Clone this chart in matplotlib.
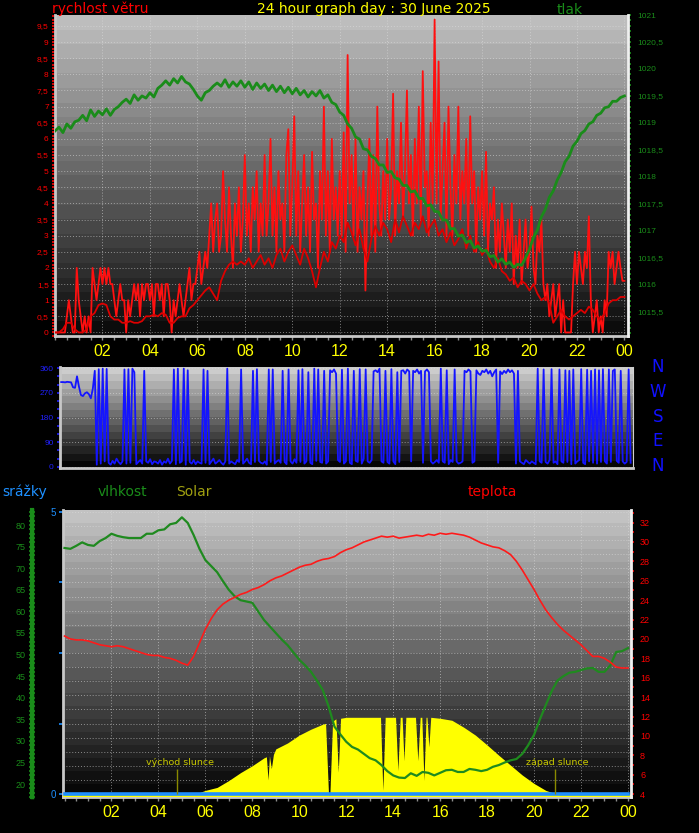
import numpy as np
import matplotlib
matplotlib.use("Agg")
import matplotlib.pyplot as plt
from matplotlib.lines import Line2D
from matplotlib.ticker import MultipleLocator, FuncFormatter
from matplotlib import font_manager

# ---- data ----
# wind gust, m/s, every 5 min (one row per hour)
gust = [
    0, 0, 0, 0, 0, 0, 0.5, 1, 0.5, 0, 0, 2,
    1, 0.5, 0, 0.5, 0, 0.5, 0, 2, 1.5, 1, 1.5, 2,
    1.5, 2, 1.5, 2, 1.5, 1.5, 1, 0.5, 1, 1.5, 1, 1,
    0, 1, 0.5, 1, 1.5, 1, 1.5, 0.5, 1.5, 1, 1.5, 1.5,
    1, 1.5, 0.5, 1.5, 1.5, 1, 1.5, 0.5, 1.5, 1.5, 1, 0,
    1, 0.5, 1, 1.5, 1, 0.5, 1, 1.5, 2, 1, 1.5, 1.5,
    2, 2.5, 1.5, 2, 2.5, 2, 3, 4, 2.5, 3.5, 4, 2.5,
    3, 5, 3.5, 2.5, 4.5, 3, 2, 4, 3, 4.5, 2.5, 3.5,
    5.5, 3, 4, 2.5, 4.5, 3.5, 5, 2.5, 4, 3, 5.5, 3,
    4, 6, 3, 4.5, 2.5, 5, 3.5, 4, 2.5, 5.5, 6.3, 3,
    4.5, 6.7, 3, 5, 2.5, 4, 5.5, 3, 4.5, 2.5, 5.6, 3.5,
    4, 2, 5, 3.5, 7, 3, 5, 2.5, 6, 3.5, 4.5, 3,
    5, 3, 6.2, 2.5, 8.6, 4, 5.5, 3, 6, 2.5, 4.5, 3.5,
    5, 1.3, 4, 6, 3, 5.5, 2.5, 7, 4, 3, 5, 3.5,
    6, 3.5, 4.5, 7.4, 3, 5, 4, 6.5, 3.5, 5, 7.5, 4,
    5.5, 3, 6, 4, 7, 3.5, 8.1, 4.5, 5, 3, 6.5, 4,
    9.7, 4, 8.4, 3.5, 5, 6.5, 3, 7, 4.5, 3, 5.5, 4,
    7, 3.5, 5, 4, 6, 3, 6.7, 4, 5, 2.5, 4.5, 3.5,
    5, 3, 5.6, 2.5, 4, 3.5, 4.5, 2, 3.5, 2.5, 4, 3,
    2, 3.5, 2.5, 4, 1.5, 3, 2, 3.5, 1.5, 2.5, 3.5, 2,
    2.5, 3.9, 2, 1.5, 3, 2.5, 3.5, 1.5, 1, 1.5, 0.5, 1,
    1.5, 0.5, 1, 1.5, 0, 1, 0, 0, 0, 0, 1.5, 2.5,
    1.5, 2.5, 2, 1.5, 2.5, 2, 3.6, 1, 0, 0.5, 1, 0,
    0.5, 0, 1, 0.5, 2.5, 2, 2.5, 1.5, 2, 2.5, 2, 1.6,
    1.6,
]

# average wind, m/s, every 10 min
wind_avg = [
    0, 0, 0.1, 0.3, 0.3, 0.1,
    0, 0, 0.1, 0.5, 0.6, 0.85,
    0.9, 0.85, 0.5, 0.4, 0.4, 0.3,
    0.3, 0.35, 0.3, 0.3, 0.35, 0.5,
    0.5, 0.55, 0.5, 0.6, 0.55, 0.3,
    0.3, 0.45, 0.5, 0.5, 0.75, 0.85,
    1.0, 1.15, 1.3, 1.4, 1.2, 1.0,
    1.6, 1.9, 2.1, 2.2, 2.1, 2.2,
    2.1, 2.3, 2.0, 2.2, 2.4, 2.1,
    2.3, 2.0, 2.4, 2.6, 2.2, 2.5,
    2.7, 2.4, 2.1, 2.6, 2.3, 1.9,
    1.4, 2.0, 2.5, 2.2, 2.8, 2.6,
    3.0, 2.8, 3.4, 3.1, 2.7, 3.2,
    2.6, 2.2, 2.9, 3.3, 3.0, 3.4,
    3.2, 2.8, 3.5, 3.1, 3.6, 3.3,
    3.0, 3.4, 3.2, 3.6, 3.1, 3.3,
    3.5, 3.0, 3.2, 2.8, 3.1, 2.7,
    2.9, 3.2, 2.6, 3.0, 2.5, 2.8,
    2.4, 2.6, 2.2, 2.0, 2.3, 1.9,
    1.8, 1.6, 1.7, 1.4, 1.6, 1.5,
    1.3, 1.5, 1.2, 1.0, 1.1, 0.9,
    0.3, 0.5, 0.7, 0.5, 0.4, 0.5,
    0.6, 0.7, 0.6, 0.8, 0.7, 0.5,
    0.4, 0.6, 0.9, 1.0, 1.0, 1.1,
    1.1,
]

# pressure, hPa, every 10 min
pressure = [
    1018.85, 1018.92, 1018.82, 1018.98, 1018.90, 1019.02,
    1019.05, 1019.14, 1019.04, 1019.24, 1019.12, 1019.22,
    1019.15, 1019.26, 1019.14, 1019.25, 1019.30, 1019.38,
    1019.44, 1019.36, 1019.52, 1019.42, 1019.50, 1019.46,
    1019.56, 1019.48, 1019.64, 1019.70, 1019.78, 1019.70,
    1019.82, 1019.74, 1019.86, 1019.76, 1019.72, 1019.62,
    1019.50, 1019.42, 1019.56, 1019.60, 1019.68, 1019.74,
    1019.68, 1019.80, 1019.66, 1019.76, 1019.68, 1019.78,
    1019.66, 1019.76, 1019.62, 1019.74, 1019.64, 1019.72,
    1019.60, 1019.70, 1019.58, 1019.68, 1019.56, 1019.66,
    1019.54, 1019.64, 1019.52, 1019.60, 1019.48, 1019.58,
    1019.50, 1019.60, 1019.46, 1019.52, 1019.38, 1019.34,
    1019.20, 1019.14, 1018.98, 1018.90, 1018.74, 1018.70,
    1018.52, 1018.50, 1018.38, 1018.34, 1018.22, 1018.22,
    1018.08, 1018.10, 1017.98, 1017.96, 1017.84, 1017.84,
    1017.72, 1017.74, 1017.60, 1017.60, 1017.46, 1017.48,
    1017.36, 1017.35, 1017.20, 1017.20, 1017.04, 1017.04,
    1016.90, 1016.92, 1016.78, 1016.82, 1016.68, 1016.72,
    1016.62, 1016.64, 1016.52, 1016.54, 1016.42, 1016.48,
    1016.38, 1016.42, 1016.32, 1016.38, 1016.36, 1016.50,
    1016.66, 1016.88, 1017.02, 1017.26, 1017.40, 1017.62,
    1017.74, 1017.94, 1018.08, 1018.28, 1018.38, 1018.57,
    1018.66, 1018.80, 1018.86, 1018.98, 1019.02, 1019.14,
    1019.18, 1019.28, 1019.30, 1019.40, 1019.40, 1019.47,
    1019.50,
]

# wind direction, degrees, every 5 min
wind_dir = [
    309, 309, 308, 310, 309, 308, 290, 288, 330, 292, 262, 258,
    268, 272, 265, 250, 285, 350, 8, 356, 12, 358, 20, 357,
    15, 8, 22, 12, 30, 18, 10, 20, 355, 12, 356, 15,
    358, 345, 10, 18, 25, 12, 350, 20, 15, 28, 10, 20,
    18, 12, 25, 8, 20, 15, 30, 12, 22, 355, 10, 358,
    15, 20, 358, 8, 352, 18, 12, 25, 10, 20, 15, 12,
    355, 15, 350, 10, 20, 30, 12, 18, 25, 15, 8, 20,
    358, 12, 20, 15, 10, 25, 18, 355, 12, 20, 30, 15,
    10, 350, 18, 356, 22, 15, 12, 20, 8, 355, 18, 355,
    12, 20, 25, 15, 350, 18, 10, 355, 20, 12, 28, 15,
    352, 18, 356, 12, 20, 345, 15, 10, 358, 22, 355, 18,
    15, 350, 12, 20, 352, 345, 355, 340, 25, 18, 354, 12,
    20, 358, 15, 10, 350, 22, 18, 356, 12, 30, 355, 20,
    15, 25, 348, 352, 345, 358, 20, 15, 350, 18, 12, 356,
    20, 10, 345, 18, 350, 352, 340, 355, 348, 20, 350, 345,
    355, 340, 350, 15, 348, 355, 345, 20, 12, 18, 25, 15,
    358, 20, 15, 352, 10, 25, 18, 355, 20, 12, 15, 20,
    350, 345, 355, 348, 15, 20, 352, 340, 335, 350, 345, 355,
    340, 350, 330, 345, 355, 15, 348, 338, 350, 342, 355, 345,
    352, 340, 12, 350, 20, 15, 10, 25, 18, 12, 20, 15,
    10, 358, 20, 15, 355, 18, 12, 25, 356, 15, 20, 10,
    355, 20, 15, 352, 18, 350, 10, 355, 12, 20, 25, 356,
    15, 10, 354, 20, 350, 15, 355, 12, 352, 18, 356, 20,
    12, 355, 18, 350, 355, 22, 15, 350, 20, 12, 18, 355,
    15,
]

# temperature, degC, every 15 min
temperature = [
    20.3, 20.0, 19.9, 19.9, 19.8, 19.6, 19.4, 19.3,
    19.2, 19.3, 19.2, 19.0, 18.8, 18.6, 18.4, 18.3,
    18.3, 18.1, 18.0, 17.8, 17.5, 17.3, 18.2, 19.6,
    21.0, 22.1, 23.0, 23.6, 24.0, 24.3, 24.6, 24.8,
    25.1, 25.3, 25.6, 26.0, 26.3, 26.5, 26.8, 27.1,
    27.4, 27.6, 27.7, 28.0, 28.2, 28.3, 28.5, 28.9,
    29.2, 29.4, 29.7, 30.0, 30.2, 30.4, 30.6, 30.5,
    30.6, 30.4, 30.5, 30.6, 30.7, 30.6, 30.8, 30.7,
    30.9, 30.8, 30.9, 30.8, 30.7, 30.5, 30.2, 29.9,
    29.7, 29.5, 29.4, 29.1, 28.7, 28.0, 27.1, 26.1,
    25.1, 24.0, 23.0, 22.2, 21.5, 20.9, 20.4, 19.9,
    19.4, 18.8, 18.2, 18.2, 18.0, 17.6, 17.1, 17.0,
    17.0,
]

# relative humidity, %, every 15 min
humidity = [
    74.7, 74.5, 75.2, 76.0, 75.4, 75.2, 76.3, 77.0,
    78.0, 77.5, 77.2, 77.0, 77.0, 77.0, 78.0, 78.0,
    78.8, 79.0, 80.2, 80.5, 81.8, 80.5, 77.7, 74.5,
    71.9, 70.5, 69.1, 67.0, 65.0, 63.5, 62.6, 62.3,
    62.0, 60.0, 58.0, 56.5, 55.0, 53.5, 52.2, 50.5,
    48.8, 47.5, 46.0, 44.0, 41.8, 38.0, 33.3, 31.5,
    29.8, 28.6, 28.0, 27.0, 26.0, 25.5, 24.4, 23.0,
    22.0, 21.5, 21.4, 22.5, 21.9, 22.8, 22.6, 22.0,
    22.6, 23.2, 23.3, 22.8, 22.8, 23.5, 23.3, 23.0,
    23.3, 24.0, 24.4, 25.0, 25.5, 25.8, 27.0, 29.0,
    31.4, 35.0, 38.3, 41.5, 44.0, 45.0, 45.8, 46.0,
    46.4, 46.8, 46.9, 46.0, 46.0, 47.5, 50.6, 50.8,
    51.5,
]

# solar radiation, W/m2, at the listed hours (narrow dips are passing clouds)
solar_t = [
    0, 5.15, 5.3, 5.6, 6.0, 6.5, 7.0, 7.5, 8.0, 8.5, 8.6, 8.67, 8.73,
    8.81, 8.9, 9.0, 9.5, 10.0, 10.5, 11.0, 11.12, 11.25, 11.3, 11.42,
    11.56, 11.66, 11.76, 12.0, 13.46, 13.56, 13.66, 14.1, 14.2, 14.3,
    14.38, 14.46, 14.54, 14.95, 15.05, 15.15, 15.22, 15.31, 15.4,
    15.44, 15.52, 15.6, 16.0, 16.5, 17.0, 17.5, 18.0, 18.5, 19.0,
    19.5, 20.0, 20.5, 21.0, 21.3, 24,
]
solar_w = [
    0, 0, 15, 25, 60, 90, 160, 240, 310, 390, 400, 165, 410,
    280, 425, 480, 540, 620, 680, 730, 738, 0, 0, 760,
    785, 245, 790, 800, 800, 60, 800, 800, 260, 800,
    800, 360, 800, 800, 360, 800, 800, 160, 800,
    800, 500, 800, 790, 770, 700, 620, 520, 415, 315,
    215, 130, 60, 20, 0, 0,
]

rain_t = [0, 24]
rain_mm = [0.0, 0.0]
sunrise = 4.8
sunset = 20.89
hour_ticks = [2, 4, 6, 8, 10, 12, 14, 16, 18, 20, 22, 24]
hour_labels = ["02", "04", "06", "08", "10", "12", "14", "16", "18", "20", "22", "00"]
compass = ["N", "W", "S", "E", "N"]

t5 = np.arange(len(gust)) / 12
t10 = np.arange(len(pressure)) / 6
t15 = np.arange(len(temperature)) / 4

W, H = 699, 833
plt.rcParams["font.family"] = ["DejaVu Sans"]
names = {f.name for f in font_manager.fontManager.ttflist}
small_font = "Liberation Sans" if "Liberation Sans" in names else "DejaVu Sans"
hour_font = "Liberation Sans Narrow" if "Liberation Sans Narrow" in names else small_font

fig = plt.figure(figsize=(W / 100, H / 100), dpi=100, facecolor="black")


def box(x0, y0, x1, y1):
    # pixel box -> figure fraction
    return [x0 / W, 1 - y1 / H, (x1 - x0) / W, (y1 - y0) / H]


def backdrop(ax, top, bottom, levels=22):
    g = np.linspace(top, bottom, levels).reshape(-1, 1)
    ax.imshow(g, cmap="gray", vmin=0, vmax=1, aspect="auto", extent=[0, 1, 0, 1],
              transform=ax.transAxes, zorder=0, interpolation="nearest")


comma = FuncFormatter(lambda v, p: f"{v:g}".replace(".", ","))
grid_kw = dict(color="#e0e0e0", linestyle=(0, (1, 2)), linewidth=0.7, alpha=0.55)


def hour_axis(ax):
    ax.set_xticks(hour_ticks)
    ax.xaxis.set_minor_locator(MultipleLocator(0.5))
    ax.tick_params(axis="x", which="both", colors="#8c8c8c", length=3, width=1)
    ax.set_xticklabels(hour_labels, color="#ffff00", fontsize=11.5, family=hour_font)
    ax.tick_params(axis="x", which="major", pad=3)
    ax.grid(axis="x", which="major", **grid_kw)


# ---------------- top panel: wind speed + pressure ----------------
ax1 = fig.add_axes(box(55, 15, 628, 336))
backdrop(ax1, 0.74, 0.05)
ax1.plot(t5, gust, color="#ff1010", lw=1.3, zorder=3)
ax1.plot(t10, wind_avg, color="#dd0000", lw=1.3, zorder=3)
ax1.set_xlim(0, 24.15)
ax1.set_ylim(-0.11, 9.84)
ax1.set_yticks(np.arange(0, 9.6, 0.5))
ax1.yaxis.set_major_formatter(comma)
ax1.yaxis.set_minor_locator(MultipleLocator(0.1))
ax1.tick_params(axis="y", which="both", colors="#ff0000", length=2.5, width=1.2, pad=2)
ax1.tick_params(axis="y", labelsize=6)
for lb in ax1.get_yticklabels():
    lb.set_family(small_font)
ax1.grid(axis="y", which="major", **grid_kw)
hour_axis(ax1)

ax1p = ax1.twinx()
ax1p.plot(t10, pressure, color="#1a8c1a", lw=2.0)
ax1p.set_ylim(1015.05, 1021.0)
ax1p.set_yticks(np.arange(1015.5, 1021.01, 0.5))
ax1p.yaxis.set_major_formatter(comma)
ax1p.yaxis.set_minor_locator(MultipleLocator(0.1))
ax1p.tick_params(axis="y", which="both", colors="#1a8c1a", length=2.5, width=1.2, pad=4)
ax1p.tick_params(axis="y", labelsize=6)
for lb in ax1p.get_yticklabels():
    lb.set_family(small_font)

for a in (ax1, ax1p):
    a.spines["top"].set_visible(False)
ax1.spines["left"].set_color("#c8c8c8")
ax1.spines["bottom"].set_color("#c8c8c8")
ax1p.spines["left"].set_visible(False)
ax1p.spines["bottom"].set_visible(False)
ax1p.spines["right"].set_color("#f0f0f0")
for s in ("left", "bottom"):
    ax1.spines[s].set_linewidth(2)
ax1p.spines["right"].set_linewidth(2)

# ---------------- middle panel: wind direction ----------------
ax2 = fig.add_axes(box(60, 367, 633, 468))
backdrop(ax2, 0.80, 0.02, levels=14)
ax2.plot(t5, wind_dir, color="#1414ff", lw=1.3, zorder=3)
ax2.set_xlim(-0.05, 24.1)
ax2.set_ylim(-4, 364)
ax2.set_yticks([0, 90, 180, 270, 360])
ax2.yaxis.set_minor_locator(MultipleLocator(30))
ax2.tick_params(axis="y", which="both", colors="#2020ff", length=2.5, width=1.2, pad=2, labelsize=6)
for lb in ax2.get_yticklabels():
    lb.set_family(small_font)
ax2.set_xticks([])
ax2.grid(axis="y", which="major", **grid_kw)
ax2.spines["top"].set_visible(False)
ax2.spines["right"].set_color("#d0d0d0")
for s in ("left", "bottom"):
    ax2.spines[s].set_color("#c8c8c8")
    ax2.spines[s].set_linewidth(2)
for i, c in enumerate(compass):
    fig.text(658 / W, 1 - (367 + 24.8 * i) / H, c, color="#1010ff", fontsize=12,
             ha="center", va="center")

# ---------------- bottom panel: rain, humidity, solar, temperature ----------------
ax3 = fig.add_axes(box(63, 510, 631, 797))
backdrop(ax3, 0.76, 0.03)
ax3.set_xlim(-0.064, 24.13)
ax3.set_ylim(-0.053, 5.035)
ax3.set_yticks([0, 1.25, 2.5, 3.75, 5])
ax3.set_yticklabels(["0", "", "", "", "5"], family=small_font)
ax3.yaxis.set_minor_locator(MultipleLocator(0.25))
ax3.tick_params(axis="y", which="major", colors="#1e90ff", length=3, width=1.2, pad=2, labelsize=7)
ax3.tick_params(axis="y", which="minor", length=0)
ax3.grid(axis="y", which="both", **grid_kw)
hour_axis(ax3)
ax3.spines["top"].set_visible(False)
ax3.spines["right"].set_visible(False)
for s in ("left", "bottom"):
    ax3.spines[s].set_color("#c8c8c8")
    ax3.spines[s].set_linewidth(2)

ax3s = ax3.twinx()
ax3s.fill_between(solar_t, solar_w, color="#ffff00", lw=0)
ax3s.axhline(0, color="#ffff00", lw=2)
ax3s.set_ylim(-7, 2899)
ax3s.axis("off")

ax3h = ax3.twinx()
ax3h.plot(t15, humidity, color="#1f8a1f", lw=1.6)
ax3h.set_ylim(17, 83.5)
ax3h.yaxis.tick_left()
ax3h.spines["left"].set_position(("outward", (63 - 32) * 0.72))
ax3h.spines["left"].set_visible(True)
ax3h.spines["left"].set_color("#1a8c1a")
ax3h.spines["left"].set_linewidth(3)
ax3h.spines["left"].set_zorder(4)
for s in ("right", "top", "bottom"):
    ax3h.spines[s].set_visible(False)
ax3h.set_yticks(np.arange(20, 81, 5))
ax3h.yaxis.set_minor_locator(MultipleLocator(1))
ax3h.tick_params(axis="y", which="both", colors="#1a8c1a", direction="inout",
                 length=5, width=1.2, pad=2, labelsize=6.5)
for lb in ax3h.get_yticklabels():
    lb.set_family(small_font)
# solid green axis line of the humidity scale
fig.add_artist(Line2D([32 / W, 32 / W], [1 - 797 / H, 1 - 510 / H], color="#1a8c1a", lw=2.5))

ax3t = ax3.twinx()
ax3t.plot(t15, temperature, color="#ff1a1a", lw=1.2)
ax3t.set_ylim(3.7, 33.3)
ax3t.set_yticks(np.arange(4, 33, 2))
ax3t.yaxis.set_minor_locator(MultipleLocator(1))
ax3t.tick_params(axis="y", which="both", colors="#ff0000", length=2.5, width=1.2, pad=4, labelsize=6.5)
for lb in ax3t.get_yticklabels():
    lb.set_family(small_font)
for s in ("left", "top", "bottom"):
    ax3t.spines[s].set_visible(False)
ax3t.spines["right"].set_color("#f0f0f0")
ax3t.spines["right"].set_linewidth(2)

ax3r = ax3.twinx()
ax3r.sharey(ax3)
ax3r.plot(rain_t, rain_mm, color="#1e90ff", lw=2.6)
ax3r.vlines([sunrise, sunset], 0, 0.44, color="#8a8a00", lw=1)
ax3r.text(4.92, 0.55, "východ slunce", color="#c8c800", fontsize=6.8, ha="center", va="center")
ax3r.text(20.97, 0.55, "západ slunce", color="#c8c800", fontsize=6.8, ha="center", va="center")
ax3r.yaxis.set_visible(False)
for s in ax3r.spines.values():
    s.set_visible(False)


# ---------------- headers ----------------
def header(x, y, s, color):
    fig.text(x / W, 1 - y / H, s, color=color, fontsize=10, ha="left", va="baseline")


header(52, 13.5, "rychlost větru", "#ff0000")
header(257, 13.5, "24 hour graph day : 30 June 2025", "#ffff00")
header(557, 13.5, "tlak", "#1a8c1a")
header(2, 496, "srážky", "#1e90ff")
header(98, 496, "vlhkost", "#1a8c1a")
header(176, 496, "Solar", "#a0a010")
header(468, 496, "teplota", "#ff0000")

fig.savefig("out.png", dpi=100, facecolor="black")
